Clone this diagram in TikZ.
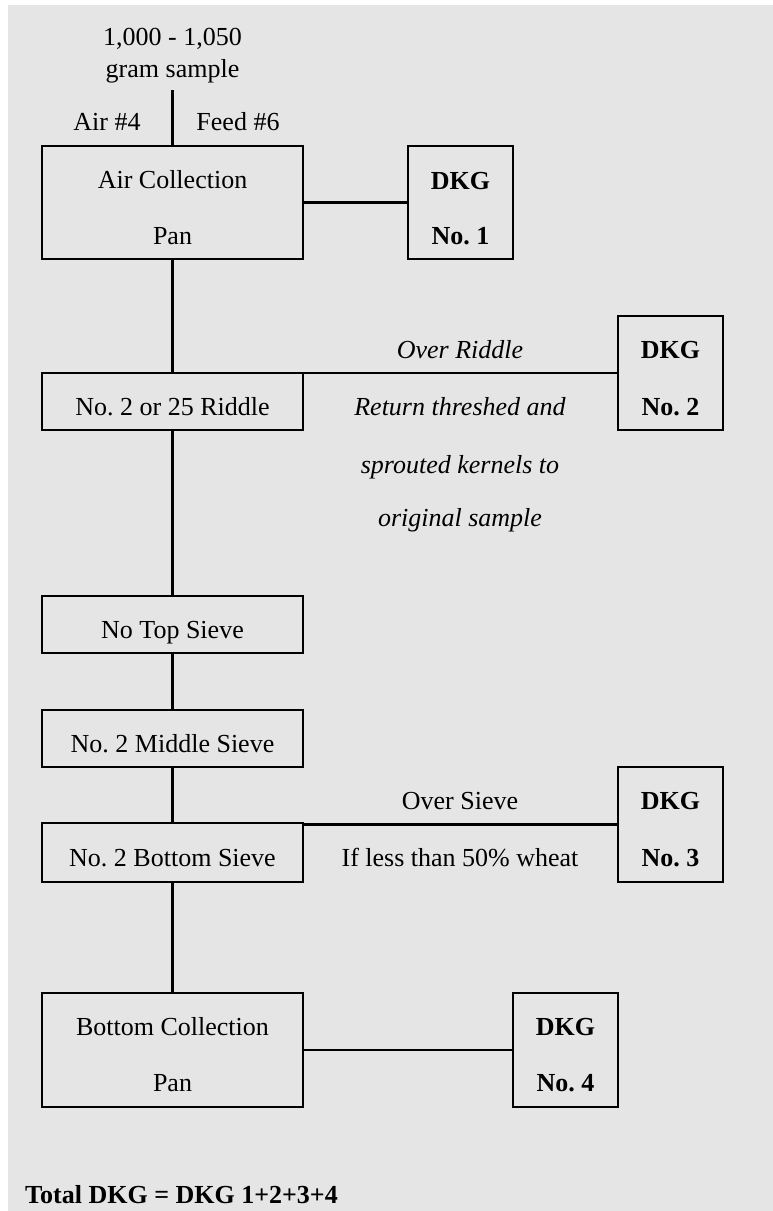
\documentclass[tikz,border=0pt]{standalone}
\usepackage{fontspec}
\setmainfont{Liberation Serif}
\definecolor{bgc}{HTML}{E5E5E5}
\begin{document}
\frenchspacing
\begin{tikzpicture}[x=1pt,y=-1pt,
  box/.style 2 args={draw=black, line width=2.8pt, minimum width=#1, minimum height=#2, inner sep=0pt},
  conn/.style={draw=black, line width=2.8pt},
  txt/.style={anchor=base, inner sep=0pt, font=\fontsize{26pt}{30pt}\selectfont},
  itxt/.style={txt, font=\fontsize{26pt}{30pt}\selectfont\itshape},
  btxt/.style={txt, font=\fontsize{26pt}{30pt}\selectfont\bfseries}]
\useasboundingbox (0,0) rectangle (773,1211);
\fill[bgc] (8,5) rectangle (773,1211);
% boxes
\node[box={261pt}{113pt}] (air) at (172.5,202.5) {};
\node[box={105pt}{113pt}] (dkg1) at (460.5,202.5) {};
\node[box={261pt}{57pt}] (riddle) at (172.5,401.5) {};
\node[box={105pt}{114pt}] (dkg2) at (670.5,373) {};
\node[box={261pt}{57pt}] (notop) at (172.5,624.5) {};
\node[box={261pt}{57pt}] (middle) at (172.5,738.5) {};
\node[box={261pt}{59pt}] (bottom) at (172.5,852.5) {};
\node[box={105pt}{115pt}] (dkg3) at (670.5,824.5) {};
\node[box={261pt}{114pt}] (coll) at (172.5,1050) {};
\node[box={105pt}{114pt}] (dkg4) at (565.5,1050) {};
\coordinate (start) at (172.5,90);
% connectors
\draw[conn] (start) -- (air.north);
\draw[conn] (air.south) -- (riddle.north);
\draw[conn] (riddle.south) -- (notop.north);
\draw[conn] (notop.south) -- (middle.north);
\draw[conn] (middle.south) -- (bottom.north);
\draw[conn] (bottom.south) -- (coll.north);
\draw[conn] (air.east) -- (dkg1.west);
\draw[conn] (dkg2.west) -- (dkg2.west -| riddle.east);
\draw[conn] (dkg3.west) -- (dkg3.west -| bottom.east);
\draw[conn] (coll.east) -- (dkg4.west);
% texts
\node[txt] (t1) at (172.5,45) {1,000 - 1,050};
\node[txt] (t2) at (172.5,77) {gram sample};
\node[txt] (tair) at (107,130) {Air \#4};
\node[txt] (tfeed) at (238,130) {Feed \#6};
\node[txt] (a1) at (172.5,188) {Air Collection};
\node[txt] (a2) at (172.5,244) {Pan};
\node[btxt] (d1a) at (460.5,189) {DKG};
\node[btxt] (d1b) at (460.5,244) {No. 1};
\node[itxt] (or) at (460,358) {Over Riddle};
\node[txt] (rt) at (172.5,415) {No. 2 or 25 Riddle};
\node[itxt] (r1) at (460,415) {Return threshed and};
\node[itxt] (r2) at (460,473) {sprouted kernels to};
\node[itxt] (r3) at (460,526) {original sample};
\node[btxt] (d2a) at (670.5,358) {DKG};
\node[btxt] (d2b) at (670.5,415) {No. 2};
\node[txt] (nt) at (172.5,638) {No Top Sieve};
\node[txt] (mt) at (172.5,752) {No. 2 Middle Sieve};
\node[txt] (os) at (460,809) {Over Sieve};
\node[btxt] (d3a) at (670.5,809) {DKG};
\node[txt] (bt) at (172.5,866) {No. 2 Bottom Sieve};
\node[txt] (lt) at (460,866) {If less than 50\% wheat};
\node[btxt] (d3b) at (670.5,866) {No. 3};
\node[txt] (c1) at (172.5,1035) {Bottom Collection};
\node[txt] (c2) at (172.5,1091) {Pan};
\node[btxt] (d4a) at (565.5,1035) {DKG};
\node[btxt] (d4b) at (565.5,1091) {No. 4};
\node[btxt, anchor=base west] (total) at (25,1203) {Total DKG = DKG 1+2+3+4};
\end{tikzpicture}
\end{document}
